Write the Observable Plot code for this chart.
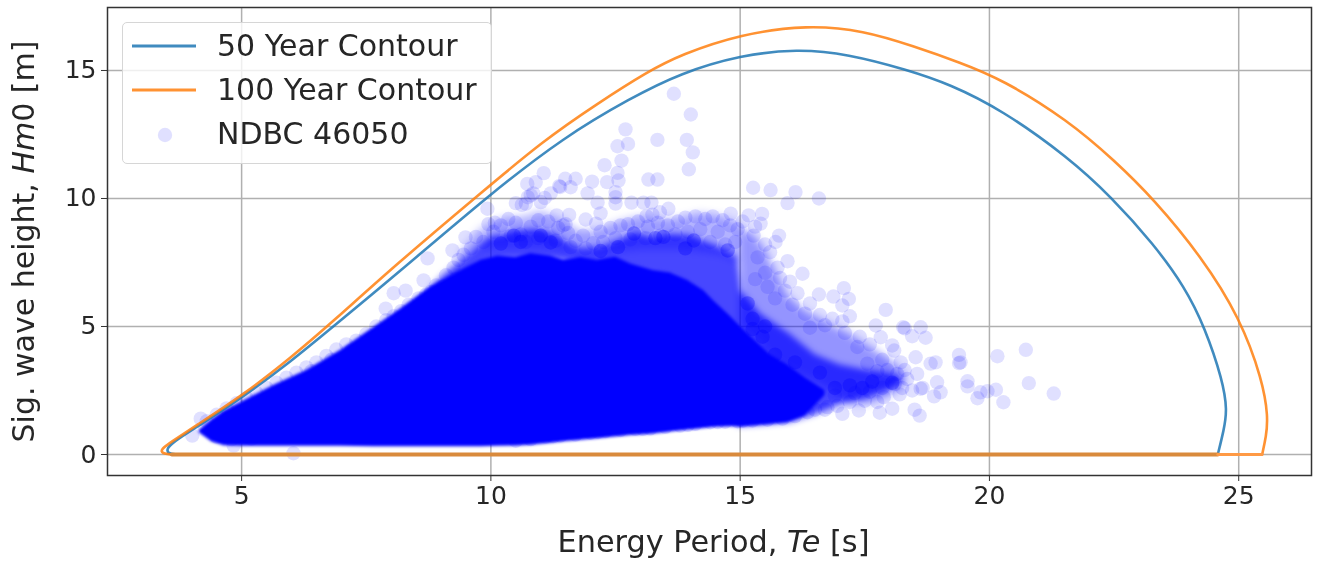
<!DOCTYPE html>
<html><head><meta charset="utf-8">
<script src="https://cdn.jsdelivr.net/npm/d3@7"></script>
<script src="https://cdn.jsdelivr.net/npm/@observablehq/plot@0.6"></script>
<style>
html,body{margin:0;padding:0;background:#fff}
#wrap{position:relative;width:1327px;height:563px;overflow:hidden;font-family:"DejaVu Sans",sans-serif;color:#262626;filter:blur(.5px)}
#legend{position:absolute;left:122px;top:22px;width:370px;height:142px;box-sizing:border-box;border:1.5px solid #d6d6d6;border-radius:5px;background:rgba(255,255,255,.8);font-size:30px}
#legend .t{position:absolute;left:94px;white-space:nowrap;line-height:34px}
#legend svg{position:absolute;left:0;top:0}
</style></head><body><div id="wrap"></div>
<script>
const xTicks=[5,10,15,20,25], yTicks=[0,5,10,15];
const legendLabels=["50 Year Contour","100 Year Contour","NDBC 46050"];

const contour50=[[24.58,0],[24.58,0],[24.7,.94],[24.77,1.72],[24.68,2.89],[24.32,4.97],[23.92,6.54],[23.29,8.23],[22.45,10.05],[21.58,11.61],[20.25,13.46],[19.2,14.47],[18.35,15.03],[17.15,15.65],[16.15,15.84],[15.01,15.6],[13.81,14.9],[12.8,13.92],[11.46,12.39],[9.99,10.18],[8.12,7.06],[6.79,4.92],[6,3.65],[5.05,2.27],[4.04,1],[3.6,.45],[3.5,.22],[3.52,.04],[3.7,0],[3.7,0]];
const contour100=[[25.47,0],[25.47,0],[25.55,.7],[25.59,1.46],[25.48,2.89],[25.02,5.36],[24.26,7.71],[23.29,9.99],[22.51,11.48],[21.58,13.05],[20.25,14.66],[19.4,15.32],[18.48,15.95],[17.48,16.56],[16.35,16.78],[15.01,16.42],[13.81,15.62],[13.14,14.95],[12.14,13.71],[11.06,12.27],[9.79,10.2],[8.12,7.46],[6.79,5.12],[6,3.8],[5.05,2.35],[4.04,1.07],[3.58,.48],[3.38,.2],[3.4,.04],[3.6,0],[3.6,0]];
const baseLine=[[3.6,0],[24.58,0]];
const baseLineEnd=[[24.58,0],[25.47,0]];

const coreTe=[4.15,4.4,4.65,5.05,5.64,6.3,6.98,7.65,8.2,8.79,9.45,9.8,10.14,10.5,10.8,11.2,11.46,11.8,12.14,12.5,12.8,13.26,13.6,13.95,14.27,14.47,14.8,15,15.27,15.6,15.95,16.3,16.7];
const coreHi=[.95,1.35,1.7,2.1,2.7,3.28,4.06,4.96,5.7,6.55,7.25,7.6,7.75,7.7,7.85,7.75,7.6,7.7,7.6,7.7,7.45,7.2,7.1,6.8,6.4,6,5.4,5,4.5,3.9,3.5,3,2.5];
const coreLo=[.85,.5,.34,.32,.32,.32,.32,.3,.3,.3,.3,.3,.32,.33,.36,.44,.5,.56,.62,.68,.74,.8,.88,.96,1.02,1.06,1.08,1.08,1.12,1.18,1.25,1.5,2.3];

const bandTe=[8.8,9,9.5,9.8,10,10.3,10.6,11,11.3,11.6,11.8,12.2,12.6,12.9,13.3,13.6,14,14.3,14.6,14.95,15.02,15.4,16,16.5,17,17.5,18,18.25];
const bandHi=[6.5,6.9,7.7,8.2,8.5,8.6,8.75,8.8,8.6,8.2,8.05,8.1,8.4,8.65,8.45,8.6,8.55,8.3,8.1,7.7,6.4,5.5,4.7,3.9,3.5,3.3,3.15,2.98];
const bandLo=[6.4,6.6,7,7.4,7.5,7.6,7.6,7.6,7.6,7.5,7.5,7.4,7.3,7.2,7,6.9,6.4,5.5,4.5,1.1,1.1,1.15,1.25,1.55,1.95,2.2,2.55,2.85];
const band2Te=[15,15.3,15.5,15.7,15.95,16.3,16.8,17.2,17.6,18,18.3];
const band2Hi=[8.9,8.5,8,7.2,6.2,5.6,5.1,4.7,4.2,3.7,3.2];
const band2Lo=[5,4.5,4,3.6,3.3,3,2.5,2,2,2.3,2.7];
const topTe=[9.4,9.8,10.2,10.7,11,11.4,11.8,12.2,12.6,13,13.4,13.8,14.2,14.6,15];
const topHi=[7.9,8.8,9.2,9.3,9.5,9.2,8.7,8.8,9.1,9.3,9.2,9.2,9.4,9.3,9];
const topLo=[7.5,8,8,8,8,7.9,7.8,7.8,7.9,8,8,8,7.9,7.8,7.5];

const outliers=[[13.67,14.09],[14.01,13.28],[12.7,12.7],[12.54,12.04],[12.75,12.13],[13.34,12.29],[13.93,12.29],[14.05,11.8],[13.97,11.14],[12.62,11.48],[12.28,11.3],[12.54,11],[12.33,10.64],[12.56,10.7],[13.16,10.74],[13.34,10.74],[12.5,10.25],[12.5,10.05],[12.5,9.8],[12.03,10.66],[11.94,10.2],[12.14,9.84],[12.2,9.42],[11.9,9.18],[12.11,9.02],[12.82,9.84],[13.06,9.84],[13.22,9.84],[13.56,9.6],[13.39,9.46],[13.24,9.37],[13.12,9.31],[15.26,10.42],[15.61,10.33],[16.11,10.25],[15.95,9.82],[16.58,10],[11.06,10.99],[11.7,10.77],[11.49,10.77],[11.37,10.48],[11.39,10.45],[11.6,10.44],[10.73,10.57],[10.9,10.64],[10.8,10.12],[10.85,10.2],[10.74,10.05],[10.5,9.82],[10.7,9.8],[10.62,9.75],[11.2,10.2],[11,9.86],[11.08,10.02],[11.32,9.34],[11.57,9.36],[11.5,9],[11.45,8.95],[9.93,9.6],[9.95,9],[10.08,9.05],[6.04,.05],[4.01,.74],[4.18,1.4],[4.84,.35],[8.73,7.66],[9.23,7.97],[9.49,8.48],[8.65,6.8],[8.29,6.4],[8.05,6.3],[7.89,5.7]];
const rightFringe=[[20.73,4.09],[20.16,3.84],[19.39,3.89],[19.39,3.57],[19.42,3.6],[20.79,2.79],[21.29,2.38],[20.28,2.04],[20.13,2.53],[19.96,2.47],[19.82,2.43],[19.76,2.2],[19.56,2.86],[19.56,2.66],[18.92,3.6],[18.82,3.55],[18.52,3.8],[18.62,4.97],[18.72,4.56],[18.45,4.62],[18.27,4.97],[18.3,4.93],[17.92,5.65],[17.72,5.04],[17.08,6.5],[16.87,6.17],[17.18,6.08],[17.05,5.82],[16.58,6.25],[16.25,7.06],[15.95,7.55],[15.78,8.55],[15.44,9.4],[14.81,9.41],[15.17,9.34],[15.41,9.02],[15.71,8.3],[15.27,8.55],[18.95,2.82],[19.02,2.43],[18.89,2.27],[18.62,2.57],[18.66,2.6],[18.45,2.5],[18.55,3.15],[18.22,3.6],[18.09,4.06],[18.05,4.26],[17.82,4.58],[18.05,1.79],[17.8,1.63],[18.5,1.75],[18.6,1.52],[17.88,2.24],[17.05,1.59],[17.38,1.72],
[15.05,9.1],[15.3,8.9],[15.5,8.2],[15.6,7.9],[15.35,7.7],[15.75,7.3],[15.5,7.1],[15.8,6.9],[16,6.75],[15.3,6.85],[15.55,6.55],[15.9,6.4],[16.15,6.3],[16.4,5.9],[15.7,6.1],[16.05,5.85],[16.3,5.5],[16.6,5.45],[16.85,5.3],[17.05,5.2],[17.2,5.4],[16.7,5.05],[16.4,4.95],[17.1,4.75],[17.4,4.6],[17.6,4.3],[17.35,4.2],[17.85,3.7],[17.55,3.55],[17.95,3.3],[18.15,3.15],[17.75,3.25],[18.3,3.3],[18.35,2.95],[18.1,2.75],[17.85,2.6],[17.6,2.45],[17.5,2.1],[17.2,2.05],[16.95,1.9],[16.7,1.75],[17.3,2.4],[16.9,2.3],[17.75,2.05],[18.2,2.35],[18.25,2.6]];
const upperFringe=[[10.05,8.7],[10.2,8.95],[10.35,9.2],[10.5,9.05],[9.85,8.3],[9.6,8.05],[9.7,8.5],[9.45,7.8],[9.25,7.3],[9.35,7.6],[9.1,7.0],[8.9,6.6],[8.7,6.25],[8.55,6.1],[8.35,5.85],[8.2,5.6],[8.05,5.4],[7.9,5.25],[7.7,5.0],[7.5,4.7],[7.3,4.45],[7.1,4.3],[6.9,4.1],[6.7,3.85],[6.5,3.6],[6.3,3.4],[6.1,3.2],[5.9,3.0],[5.7,2.8],[5.5,2.6],[5.3,2.4],[5.1,2.2],[4.9,2.0],[4.7,1.8],[4.5,1.55],[4.3,1.3],[8.6,5.9],[8.8,6.35],[9.05,6.55],[9.3,6.85],[8.1,5.1],[7.8,4.8],[7.6,4.5],[7.2,4.05],[6.8,3.7],[6.4,3.25],
[10.6,8.6],[10.8,8.9],[10.95,9.15],[11.15,9.1],[11.35,8.85],[11.55,8.65],[11.7,8.35],[11.85,8.55],[12.05,8.25],[12.2,8.7],[12.4,8.85],[12.6,8.95],[12.75,9.0],[12.95,9.1],[13.15,8.9],[13.35,9.05],[13.55,8.95],[13.75,9.1],[13.9,9.25],[14.1,9.3],[14.3,9.2],[14.45,9.3],[14.65,9.15],[14.8,8.95],[14.95,8.8],[14.55,8.7],[14.2,8.8],[13.95,8.7],[13.7,8.6],[13.4,8.55],[13.1,8.45],[12.8,8.4],[12.5,8.45],[12.25,8.3],[11.9,8.05],[11.6,8.1],[11.3,8.35],[10.95,8.45],[10.7,8.3],[10.4,8.55],[14.9,8.3],[14.7,8.2],[14.4,8.3]];
const lowerFringe=[[10.5,.54],[10.8,.6],[11.1,.7],[11.4,.75],[11.7,.78],[12,.85],[12.3,.92],[12.6,.96],[12.9,1],[13.2,1.02],[13.5,1.08],[13.8,1.13],[14.1,1.2],[14.4,1.26],[14.7,1.28],[14.95,1.3],[15.25,1.33],[15.55,1.36],[15.85,1.4],[16.1,1.5],[16.35,1.65],[16.75,1.85],[11.25,.72],[12.15,.88],[13.05,1],[13.95,1.16],[14.55,1.27],[15.05,1.32],[16.5,1.75],[5.2,.62],[4.8,.6],[4.5,.7]];
const darkClumps=[[10.2,8.24],[11.2,8.28],[12.87,8.63],[13.46,8.5],[13.3,8.45],[14.07,8.36],[14.75,7.97],[11,8.55],[10.46,8.55],[10.6,8.3],[13.9,8.05],[12.55,8.1],[12.2,7.95],[15.15,5.9],[15.25,5.3],[15.25,4.9],[15.45,4.6],[15.5,5],[15.7,3.9],[16.1,3.6],[16.6,3.2],[17.2,2.7],[17.65,2.85],[18.05,2.8],[16.35,2.15],[16.9,2.6],[17.45,2.6]];

const rows=(te,a,b)=>te.map((t,i)=>({te:t,lo:a[i],hi:b[i]}));
const dots=(pts,o)=>Plot.dot(pts,{x:d=>d[0],y:d=>d[1],r:7.2,fill:"#0000ff",fillOpacity:o,stroke:"none"});
const line=(pts,c,w)=>Plot.line(pts,{x:d=>d[0],y:d=>d[1],stroke:c,strokeWidth:w,strokeOpacity:.85,curve:"basis"});
const flat=(pts,c,w)=>Plot.line(pts,{x:d=>d[0],y:d=>d[1],stroke:c,strokeWidth:w});

const chart=Plot.plot({
  width:1327,height:563,marginLeft:107,marginRight:16,marginTop:7,marginBottom:88,
  style:{fontFamily:"'DejaVu Sans',sans-serif",background:"#fff",color:"#262626"},
  x:{domain:[2.31,26.46]},
  y:{domain:[-.82,17.46]},
  marks:[
    Plot.gridX(xTicks,{stroke:"#b0b0b0",strokeOpacity:1,strokeWidth:1.5}),
    Plot.gridY(yTicks,{stroke:"#b0b0b0",strokeOpacity:1,strokeWidth:1.5}),
    Plot.areaY(rows(band2Te,band2Lo,band2Hi),{x:"te",y1:"lo",y2:"hi",fill:"#0000ff",fillOpacity:.42}),
    Plot.areaY(rows(topTe,topLo,topHi),{x:"te",y1:"lo",y2:"hi",fill:"#0000ff",fillOpacity:.3}),
    Plot.areaY(rows(bandTe,bandLo,bandHi),{x:"te",y1:"lo",y2:"hi",fill:"#0000ff",fillOpacity:.72}),
    Plot.areaY(rows(coreTe,coreLo,coreHi),{x:"te",y1:"lo",y2:"hi",fill:"#0000ff"}),
    dots(darkClumps,.3),
    dots(outliers,.12),dots(rightFringe,.12),dots(upperFringe,.12),dots(lowerFringe,.12),
    line(contour50,"#1f77b4",2.6),line(contour100,"#ff7f0e",2.6),
    flat(baseLine,"#d98a3c",4),flat(baseLineEnd,"#ff9a45",2.8),
    Plot.frame({stroke:"#333",strokeWidth:1.5}),
    Plot.axisX(xTicks,{fontSize:25,tickSize:6,tickPadding:5,stroke:"#333",label:"Energy Period, Te [s]",labelAnchor:"center",labelArrow:"none",labelOffset:76}),
    Plot.axisY(yTicks,{fontSize:25,tickSize:6,tickPadding:5,stroke:"#333",label:"Sig. wave height, Hm0 [m]",labelAnchor:"center",labelArrow:"none",labelOffset:95})
  ]
});
const wrap=document.getElementById("wrap");
wrap.appendChild(chart);

// soften the outline of the density layers, so they read as a mass of overlapping circles
const areas=chart.querySelectorAll('g[aria-label="area"]');
const blurs=["4px","4px","3px","1.5px"];
areas.forEach((a,i)=>{a.style.filter="blur("+blurs[i]+")"});

function italicise(sel,parts){
  const t=chart.querySelector(sel); if(!t) return;
  t.textContent="";
  const s=d3.select(t);
  parts.forEach(([txt,it])=>s.append("tspan").attr("font-style",it?"italic":"normal").text(txt));
}
chart.querySelectorAll("text").forEach(t=>{
  if(t.textContent.startsWith("Energy")){t.setAttribute("data-l","x");t.setAttribute("font-size","30.3");t.setAttribute("dx","4")}
  if(t.textContent.startsWith("Sig.")){t.setAttribute("data-l","y");t.setAttribute("font-size","30")}
});
italicise('text[data-l="x"]',[["Energy Period, ",0],["Te",1],[" [s]",0]]);
italicise('text[data-l="y"]',[["Sig. wave height, ",0],["Hm",1],["0 [m]",0]]);

const lg=d3.select(wrap).append("div").attr("id","legend");
const sw=lg.append("svg").attr("width",366).attr("height",138);
sw.append("line").attr("x1",9).attr("x2",73).attr("y1",23).attr("y2",23).attr("stroke","#1f77b4").attr("stroke-width",2.8).attr("stroke-opacity",.85);
sw.append("line").attr("x1",9).attr("x2",73).attr("y1",67).attr("y2",67).attr("stroke","#ff7f0e").attr("stroke-width",2.8).attr("stroke-opacity",.85);
sw.append("circle").attr("cx",42).attr("cy",112).attr("r",7.2).attr("fill","#0000ff").attr("fill-opacity",.12);
legendLabels.forEach((l,i)=>lg.append("div").attr("class","t").style("top",(6+i*44)+"px").text(l));
</script></body></html>
